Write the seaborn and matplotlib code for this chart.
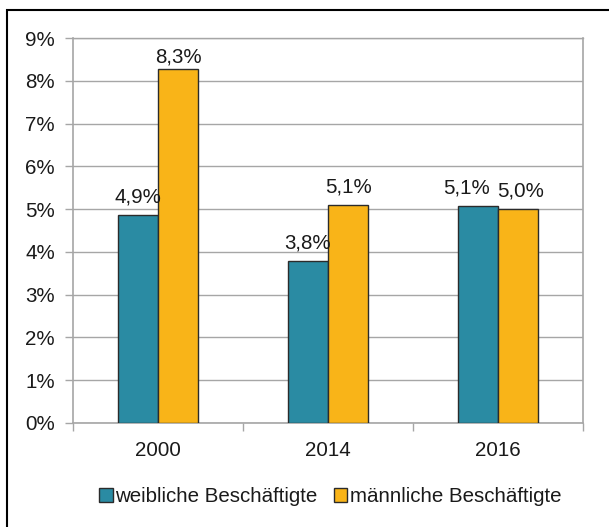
import matplotlib
matplotlib.use("Agg")
import matplotlib.pyplot as plt
from matplotlib.patches import Patch, Rectangle
from matplotlib.ticker import FuncFormatter, FixedLocator
import pandas as pd
import seaborn as sns

# data
years = ["2000", "2014", "2016"]
groups = ["weibliche Beschäftigte", "männliche Beschäftigte"]
weiblich = [4.86, 3.78, 5.07]
maennlich = [8.27, 5.1, 5.0]
colors = ["#2A8BA3", "#F9B418"]

df = pd.DataFrame({
    "Jahr": years * 2,
    "Gruppe": [groups[0]] * 3 + [groups[1]] * 3,
    "Wert": weiblich + maennlich,
})

sns.set_style("white")
plt.rcParams["font.family"] = ["Liberation Sans", "DejaVu Sans"]
fs = 14.8
plt.rcParams["font.size"] = fs
text_col = "#1a1a1a"
grid_col = "#a6a6a6"

fig = plt.figure(figsize=(6.09, 5.27), dpi=100)
ax = fig.add_axes([73 / 609, 104 / 527, 510 / 609, 385 / 527])

sns.barplot(data=df, x="Jahr", y="Wert", hue="Gruppe", order=years,
            hue_order=groups, palette=colors, width=0.476, gap=0,
            edgecolor="#2b2b2b", linewidth=1, saturation=1,
            legend=False, ax=ax, zorder=3)

# value labels with German decimal comma
label_sets = []
for cont, vals in zip(ax.containers, [weiblich, maennlich]):
    labels = [f"{v:.1f}%".replace(".", ",") for v in vals]
    label_sets.append(ax.bar_label(cont, labels=labels, padding=6,
                                   color=text_col, fontsize=fs))
# nudge labels the way the original layout separated them
label_sets[0][2].xyann = (-8, 6)
label_sets[1][2].xyann = (2, 6)
label_sets[1][0].xyann = (0, 2)

ax.set_ylim(0, 9)
ax.set_xlim(-0.5, 2.5)
ax.set_yticks(range(0, 10))
ax.yaxis.set_major_formatter(FuncFormatter(lambda v, p: f"{int(v)}%"))
ax.grid(axis="y", color=grid_col, linewidth=1, zorder=0)
ax.set_axisbelow(True)
ax.set_xlabel("")
ax.set_ylabel("")

ax.tick_params(axis="y", length=6, width=1, color=grid_col, pad=7,
               labelcolor=text_col, left=True)
ax.tick_params(axis="x", which="major", length=0, pad=13, labelcolor=text_col)
ax.xaxis.set_minor_locator(FixedLocator([-0.5, 0.5, 1.5, 2.5]))
ax.tick_params(axis="x", which="minor", length=6, width=1, color=grid_col,
               bottom=True, direction="out")

for s in ax.spines.values():
    s.set_color(grid_col)
    s.set_linewidth(1.2)
    s.set_visible(True)
ax.spines["top"].set_linewidth(1)

handles = [Patch(facecolor=c, edgecolor="#2b2b2b", linewidth=1) for c in colors]
fig.legend(handles, groups, loc="center", bbox_to_anchor=(0.542, 0.057),
           ncol=2, frameon=False, handlelength=0.65, handleheight=0.65,
           handletextpad=0.12, columnspacing=0.8, fontsize=fs,
           labelcolor=text_col)

# outer chart border (only left and top edges fall inside the image)
fig.add_artist(Rectangle((7 / 609, -0.1), 1.2, 1 - 10 / 527 + 0.1,
                         transform=fig.transFigure, fill=False,
                         edgecolor="black", linewidth=1.5))

fig.savefig("out.png", dpi=100)
